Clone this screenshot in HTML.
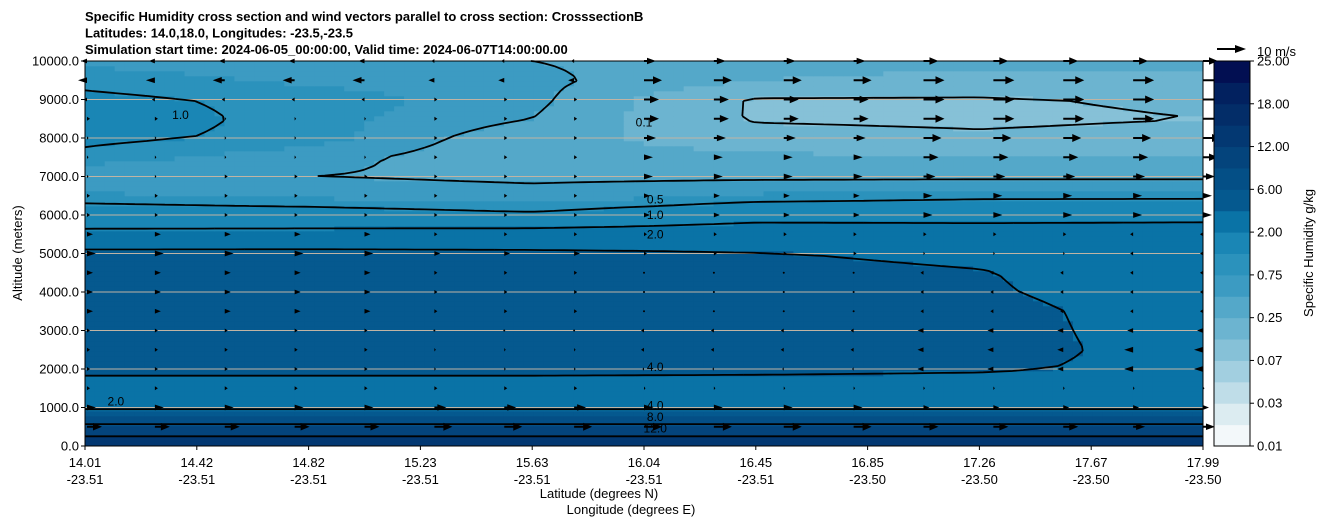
<!DOCTYPE html>
<html><head><meta charset="utf-8"><style>
body{margin:0;background:#fff;width:1326px;height:526px;overflow:hidden;font-family:"Liberation Sans",sans-serif}
svg text{font-family:"Liberation Sans",sans-serif}
</style></head><body>
<svg id="c" width="1326" height="526"></svg>
<script>
const altitudes=[0,500,1000,1500,2000,2500,3000,3500,4000,4500,5000,5500,6000,6500,7000,7500,8000,8500,9000,9500,10000];
const gridLats=[14.01,14.8,15.6,16.4,17.2,17.99];
const humidity=[
[16,16,16,16,16,16],[9,9,9,9,9,9],[3.6,3.6,3.6,3.6,3.6,3.6],[3.2,3.2,3.2,3.2,3.2,3.2],
[4.5,4.5,4.5,4.4,4.2,3.6],[5,5,5,4.8,4.5,3.5],[5,5,5,5,4.5,3.4],[5,5,5,5,4.5,3.3],
[5,5,5,5,4.2,3.2],[5,5,5,4.6,4.1,3],[4.6,4.6,4.4,4.1,3.6,3],[2.3,2.4,2.6,2.8,2.7,2.6],
[1.4,1.3,1.1,1.6,1.6,1.7],[0.8,0.7,0.6,0.8,0.9,0.9],[0.55,0.5,0.45,0.45,0.45,0.45],[0.9,0.6,0.35,0.3,0.25,0.25],
[1.1,0.9,0.35,0.15,0.12,0.15],[1.2,0.9,0.5,0.09,0.08,0.1],[1.1,0.9,0.6,0.09,0.09,0.12],[0.9,0.7,0.6,0.25,0.2,0.22],
[0.7,0.6,0.5,0.35,0.3,0.3]];
const windU=[
[6,6,6,6,6,6],[5,5,6,6,5,4],[3,3,4,3,2,2],[1,1,1,0.5,0.5,0.5],[1,1,0.5,-0.5,-2,-3],[1,1,0.5,-1,-2,-3],
[1,1,0,-1,-2,-2],[2,2,1,0,-1,-1],[2,2,1,0,-1,-1],[2,2,1,0,-1,-1],[3,3,2,1,0.5,-1],[2,2,1,1,1,-1],
[1,1,1,2,3,3],[1,1,1,2,3,3],[0.5,1,1,3,4,4],[0.5,0.5,1,3,5,5],[0.5,0.5,1,4,6,6],[1,0.5,1,5,7,7],
[-1,-1,1,5,7,7],[-3,-4,-2,6,7,7],[-2,-2,-1,4,5,5]];
const levels=[0.01,0.02,0.03,0.05,0.07,0.1,0.25,0.5,0.75,1,2,4,6,8,12,15,18,20,25];
const cbLabels=["0.01","0.03","0.07","0.25","0.75","2.00","6.00","12.00","18.00","25.00"];
const contourLevels=[0.1,0.5,1,2,4,8,12];
const contourLabelText=["0.5","1.0","2.0","4.0","4.0","8.0","12.0","0.1","1.0","2.0"];
const contourLabelLat=[16.04,16.04,16.04,16.04,16.04,16.04,16.04,16.0,14.35,14.12];
const contourLabelAlt=[6400,6000,5500,2050,1050,750,450,8400,8600,1150];
const latTicks=["14.01","14.42","14.82","15.23","15.63","16.04","16.45","16.85","17.26","17.67","17.99"];
const lonTicks=["-23.51","-23.51","-23.51","-23.51","-23.51","-23.51","-23.51","-23.50","-23.50","-23.50","-23.50"];
const bandColors=["#f3f8fa","#dcecf1","#bfdde8","#a2cfe0","#86c1d7","#6cb4d0","#54a8c9","#3c9bc2","#2b92bc","#1a86b5","#0a73a6","#05598f","#044f86","#04447c","#033872","#032d68","#02215f","#020f52"];
const NS="http://www.w3.org/2000/svg",svg=document.getElementById('c');
const X0=85,X1=1203,Y0=446,Y1=61;
const xs=f=>X0+(X1-X0)*f, ys=a=>Y0-(Y0-Y1)*a/10000, xl=lat=>X0+(X1-X0)*(lat-14.01)/(17.99-14.01);
function el(t,a,p){const e=document.createElementNS(NS,t);for(const k in a)e.setAttribute(k,a[k]);(p||svg).appendChild(e);return e;}
function val(f,a){const ci=f*(gridLats.length-1),ri=a/500;const c0=Math.min(Math.floor(ci),gridLats.length-2),r0=Math.min(Math.floor(ri),altitudes.length-2);const tc=ci-c0,tr=ri-r0;
const lg=v=>Math.log(v);const v=(1-tr)*((1-tc)*lg(humidity[r0][c0])+tc*lg(humidity[r0][c0+1]))+tr*((1-tc)*lg(humidity[r0+1][c0])+tc*lg(humidity[r0+1][c0+1]));return Math.exp(v);}
function band(v){let b=0;for(let i=0;i<levels.length-1;i++)if(v>=levels[i])b=i;return Math.min(b,bandColors.length-1);}
const field=el('g',{});
const NX=112,NY=77,dx=(X1-X0)/NX,dy=(Y0-Y1)/NY,F=[];
for(let j=0;j<=NY;j++){F[j]=[];for(let i=0;i<=NX;i++)F[j][i]=val(i/NX,j/NY*10000);}
for(let j=0;j<NY;j++)for(let i=0;i<NX;i++){const v=val((i+0.5)/NX,(j+0.5)/NY*10000);el('rect',{x:X0+i*dx-0.3,y:Y0-(j+1)*dy-0.3,width:dx+0.6,height:dy+0.6,fill:bandColors[band(v)]},field);}
for(let a=1000;a<10000;a+=1000){const g=el('line',{x1:X0,x2:X1,y1:ys(a),y2:ys(a),stroke:'#c0b4a4','stroke-width':1});}
const cg=el('g',{fill:'none',stroke:'#000','stroke-width':1.8});
contourLevels.forEach(L=>{let d='';for(let j=0;j<NY;j++)for(let i=0;i<NX;i++){
const p=[[i,j],[i+1,j],[i+1,j+1],[i,j+1]],vv=p.map(q=>F[q[1]][q[0]]),pts=[];
for(let k=0;k<4;k++){const a=vv[k],b=vv[(k+1)%4];if((a<L)!==(b<L)){const t=(L-a)/(b-a),q0=p[k],q1=p[(k+1)%4];pts.push([X0+(q0[0]+t*(q1[0]-q0[0]))*dx,Y0-(q0[1]+t*(q1[1]-q0[1]))*dy]);}}
for(let k=0;k+1<pts.length;k+=2)d+=`M${pts[k][0].toFixed(1)},${pts[k][1].toFixed(1)}L${pts[k+1][0].toFixed(1)},${pts[k+1][1].toFixed(1)}`;}
if(d){const p=el('path',{d:d},cg);}});
contourLabelText.forEach((s,i)=>{const x=xl(contourLabelLat[i]),y=ys(contourLabelAlt[i]);
const t=el('text',{x:x,y:y+4,'text-anchor':'middle','font-size':12,fill:'#000',stroke:'none'});t.textContent=s;});
const ag=el('g',{fill:'#000'});
const scale=3.0;
for(let r=0;r<altitudes.length;r++){const y=ys(altitudes[r]);if(altitudes[r]===0)continue;
for(let k=0;k<17;k++){const f=k/16,x=xs(f)+(k===0?2:0);const col=Math.min(Math.round(f*(gridLats.length-1)),gridLats.length-1);
const u=windU[r][col],L=u*scale;if(Math.abs(L)<1.5){const d=el('circle',{cx:x,cy:y,r:1},ag);continue;}
const s=Math.sign(L),hl=Math.min(9,Math.abs(L))*s,hw=Math.min(4,1.5+Math.abs(L)*0.15);
const p=el('polygon',{points:`${x},${y-1} ${x+L-hl},${y-1} ${x+L-hl},${y-hw} ${x+L},${y} ${x+L-hl},${y+hw} ${x+L-hl},${y+1} ${x},${y+1}`},ag);
}}
const fr=el('rect',{x:X0,y:Y1,width:X1-X0,height:Y0-Y1,fill:'none',stroke:'#000','stroke-width':1});
for(let a=0;a<=10000;a+=1000){const y=ys(a);el('line',{x1:X0-4,x2:X0,y1:y,y2:y,stroke:'#000'});const t=el('text',{x:X0-6,y:y+4.5,'text-anchor':'end','font-size':13});t.textContent=a.toFixed(1);}
const yt=el('text',{x:22,y:253,'text-anchor':'middle','font-size':13,transform:'rotate(-90 22 253)'});yt.textContent='Altitude (meters)';
latTicks.forEach((l,i)=>{const x=xs(i/10);el('line',{x1:x,x2:x,y1:Y0,y2:Y0+4,stroke:'#000'});
const t=el('text',{x:x,y:467,'text-anchor':'middle','font-size':13});t.textContent=l;
const t2=el('text',{x:x,y:484,'text-anchor':'middle','font-size':13});t2.textContent=lonTicks[i];});
const xt=el('text',{x:599,y:498,'text-anchor':'middle','font-size':13});xt.textContent='Latitude (degrees N)';
const xt2=el('text',{x:631,y:514,'text-anchor':'middle','font-size':13});xt2.textContent='Longitude (degrees E)';
["Specific Humidity cross section and wind vectors parallel to cross section: CrosssectionB","Latitudes: 14.0,18.0, Longitudes: -23.5,-23.5","Simulation start time: 2024-06-05_00:00:00, Valid time: 2024-06-07T14:00:00.00"].forEach((s,i)=>{const t=el('text',{x:85,y:21+i*16.5,'font-size':13,'font-weight':'bold'});t.textContent=s;});
const CX=1214,CW=36,bh=(Y0-Y1)/bandColors.length;
bandColors.forEach((c,i)=>{const r=el('rect',{x:CX,y:Y0-(i+1)*bh,width:CW,height:bh+0.5,fill:c});});
el('rect',{x:CX,y:Y1,width:CW,height:Y0-Y1,fill:'none',stroke:'#000'});
cbLabels.forEach((l,i)=>{const y=Y0-i*2*(Y0-Y1)/18;el('line',{x1:CX+CW,x2:CX+CW+4,y1:y,y2:y,stroke:'#000'});const t=el('text',{x:CX+CW+7,y:y+4.5,'font-size':13});t.textContent=l;});
const ct=el('text',{x:1313,y:253,'text-anchor':'middle','font-size':13,transform:'rotate(-90 1313 253)'});ct.textContent='Specific Humidity g/kg';
const qk=el('polygon',{points:'1217,48 1235,48 1235,45 1246,49 1235,53 1235,50 1217,50',fill:'#000'});
const qt=el('text',{x:1257,y:56,'font-size':13});qt.textContent='10 m/s';
</script>
</body></html>
